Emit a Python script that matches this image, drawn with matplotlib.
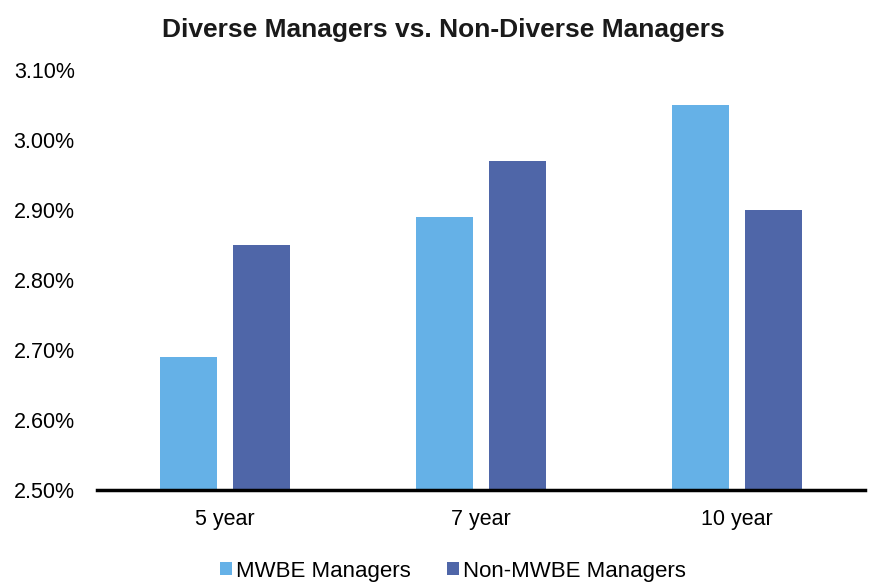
import matplotlib.pyplot as plt
import numpy as np
from matplotlib.ticker import FuncFormatter

plt.rcParams['font.family'] = ['Liberation Sans', 'DejaVu Sans']

categories = ['5 year', '7 year', '10 year']
mwbe = [2.69, 2.89, 3.05]
non_mwbe = [2.85, 2.97, 2.90]
labels = ['MWBE Managers', 'Non-MWBE Managers']

c_mwbe = '#65b1e7'
c_non = '#4f66a8'

fig = plt.figure(figsize=(8.69, 5.82), dpi=100)
ax = fig.add_axes([97/869, 1-490/582, 768/869, 420/582])

xx = np.arange(len(categories))
w = 0.222
gap = 0.062
ax.bar(xx - (w+gap)/2, mwbe, width=w, color=c_mwbe, label=labels[0])
ax.bar(xx + (w+gap)/2, non_mwbe, width=w, color=c_non, label=labels[1])

ax.set_ylim(2.5, 3.1)
ax.set_xlim(-0.5, 2.5)
ax.set_yticks(np.arange(2.5, 3.11, 0.1))
ax.yaxis.set_major_formatter(FuncFormatter(lambda v, p: '%.2f%%' % v))
ax.set_xticks(xx)
ax.set_xticklabels(categories)
ax.tick_params(axis='both', length=0, labelsize=15.5, colors='#000000')
ax.tick_params(axis='x', pad=14)
ax.tick_params(axis='y', pad=16)
for s in ['top', 'right', 'left']:
    ax.spines[s].set_visible(False)
ax.spines['bottom'].set_linewidth(2.5)
ax.spines['bottom'].set_color('black')

fig.text(443.5/869, 1-30/582, 'Diverse Managers vs. Non-Diverse Managers', fontsize=19,
         fontweight='bold', ha='center', va='center', color='#1a1a1a')

ax.legend(loc='center', bbox_to_anchor=(453/869, 1-571/582), bbox_transform=fig.transFigure,
          ncol=2, frameon=False, fontsize=16, handlelength=0.55, handleheight=0.55,
          handletextpad=0.2, columnspacing=1.6, borderpad=0)

fig.savefig('out.png', dpi=100)
